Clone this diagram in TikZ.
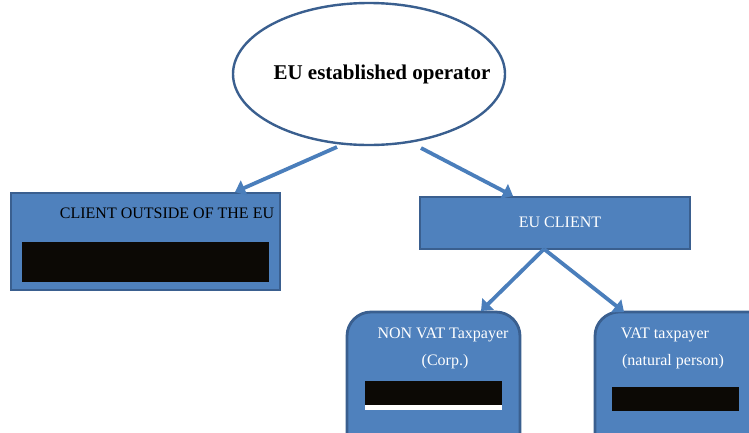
\documentclass[tikz,border=0pt]{standalone}
\usepackage{fontspec}
\setmainfont{Liberation Serif}
\usetikzlibrary{arrows.meta,shapes.geometric}
\definecolor{boxfill}{HTML}{4F81BD}
\definecolor{boxedge}{HTML}{3A5F8F}
\definecolor{arrowcol}{HTML}{4A7EBB}
\definecolor{hidden}{HTML}{0C0905}
\tikzset{
  bluebox/.style={draw=boxedge, line width=2.8pt, fill=boxfill, inner sep=0pt},
  roundbox/.style={bluebox, rounded corners=24pt},
  blackbar/.style={fill=hidden, draw=none, inner sep=0pt},
  conn/.style={draw=arrowcol, line width=3.8pt, -{Triangle[length=10pt,width=16pt]}},
  lbl/.style={inner sep=0pt, font=\fontsize{16}{19}\selectfont}
}
\begin{document}
\begin{tikzpicture}[x=1pt,y=-1pt]
\useasboundingbox (0,0) rectangle (749,432);
% ellipse
\node[ellipse, draw=boxedge, line width=2.4pt, fill=white, minimum width=272pt, minimum height=142pt, inner sep=0pt] (op) at (369,74) {};
\node[inner sep=0pt, font=\fontsize{21}{24}\selectfont\bfseries] (optext) at (382,74) {EU established operator};
% left box
\path[bluebox] (11,193) rectangle (280,290);
\node[lbl] (outside) at (167,213) {CLIENT OUTSIDE OF THE EU};
\path[blackbar] (22,242) rectangle (269,282);
\node[lbl, font=\fontsize{16}{19}\selectfont\itshape, text=hidden] (exempt) at (152,252) {Operation exempt from VAT};
\coordinate (outtop) at (235,192);
% EU client
\path[bluebox] (420,197) rectangle (690,249);
\node[lbl, text=white] (euclient) at (560,222) {EU CLIENT};
\coordinate (eutop) at (513,196);
\coordinate (eubot) at (544,249);
% bottom boxes
\path[roundbox] (347,312) rectangle (520,460);
\node[lbl, text=white] (nonvat) at (443,335) {NON VAT Taxpayer};
\node[lbl, text=white] (corp) at (445,362) {(Corp.)};
\path[fill=white] (365,381) rectangle (502,410);
\path[blackbar] (365,381) rectangle (502,405);
\path[roundbox] (595,312) rectangle (780,460);
\node[lbl, text=white] (vat) at (665,335) {VAT taxpayer};
\node[lbl, text=white] (natural) at (673,362) {(natural person)};
\path[blackbar] (612,387) rectangle (739,411);
\coordinate (nonvattop) at (481,311);
\coordinate (vattop) at (624,312);
% connectors
\coordinate (opl) at (337,147);
\coordinate (opr) at (421,148);
\draw[conn] (opl) -- (outtop);
\draw[conn] (opr) -- (eutop);
\draw[conn] (eubot) -- (nonvattop);
\draw[conn] (eubot) -- (vattop);
\end{tikzpicture}
\end{document}
